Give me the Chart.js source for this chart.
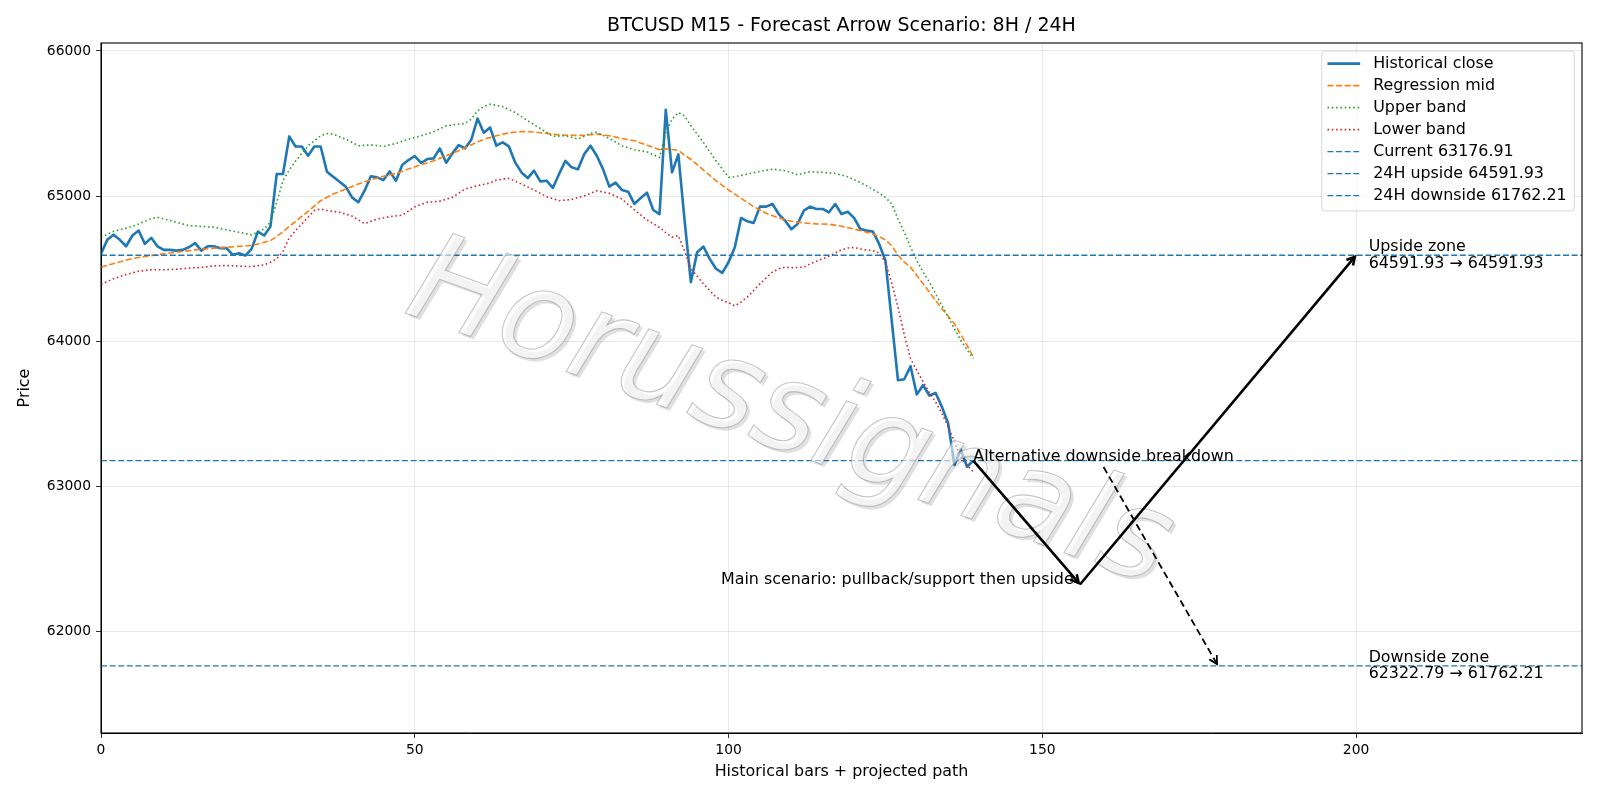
<!DOCTYPE html>
<html><head><meta charset="utf-8">
<script src="https://cdn.jsdelivr.net/npm/chart.js@4.4.1/dist/chart.umd.min.js"></script>
<style>html,body{margin:0;padding:0;background:#fff;}#wrap{width:1600px;height:800px;}</style>
</head><body><div id="wrap"><canvas id="c" width="1600" height="800"></canvas></div>
<script>
// ---------------- data ----------------
const closeValues = [64602,64698,64734,64698,64654,64728,64762,64670,64712,64654,
64629,64629,64624,64629,64647,64675,64624,64654,64654,64641,
64641,64595,64606,64590,64636,64755,64728,64790,65152,65152,
65411,65342,65342,65278,65342,65342,65168,65133,65099,65065,
64991,64957,65037,65136,65129,65110,65170,65106,65214,65248,
65276,65228,65255,65260,65328,65230,65294,65351,65328,65388,
65534,65436,65473,65347,65370,65342,65232,65163,65124,65175,
65101,65106,65056,65152,65243,65198,65184,65289,65347,65278,
65186,65065,65092,65042,65030,64946,64987,65023,64904,64876,
65594,65163,65287,64830,64407,64613,64652,64567,64499,64471,
64544,64647,64849,64826,64815,64927,64927,64945,64876,64831,
64772,64808,64899,64927,64911,64911,64888,64945,64876,64892,
64850,64773,64762,64755,64670,64556,64143,63730,63737,63827,
63632,63696,63625,63643,63547,63432,63146,63254,63134,63176.91];

const midBars = [0,5,10,15,20,24,26,27,28,29,30,31,33,35,37,39,41,43,45,47,49,51,53,55,57,59,61,63,65,67,69,71,73,75,77,79,81,83,85,87,89,90,92,93,94,96,98,100,102,104,106,108,110,112,114,116,118,120,122,123,124,125,126,127,128,129,130,132,134,136,138,139];
const midValues = [64510,64570,64602,64629,64647,64659,64682,64693,64721,64755,64790,64825,64895,64968,65014,65048,65083,65112,65136,65156,65186,65216,65243,65278,65312,65353,65391,65416,65436,65445,65441,65432,65422,65418,65418,65427,65416,65397,65381,65351,65320,65326,65315,65282,65254,65179,65106,65042,64984,64927,64881,64849,64826,64815,64808,64806,64792,64773,64750,64739,64721,64698,64659,64594,64544,64510,64453,64338,64223,64120,63971,63891];

const upperBars = [0,2,5,8,9,12,14,18,22,24,26,27,28,29,30,31,33,35,36,37,39,41,43,45,47,49,51,53,55,57,58,59,60,61,62,64,66,68,70,72,74,76,78,79,81,83,85,87,89,90,91,92,93,94,96,98,100,101,103,105,107,109,111,113,115,117,119,121,122,124,125,126,127,128,129,130,131,132,133,134,135,136,137,138,139];
const upperValues = [64716,64757,64790,64843,64854,64820,64796,64785,64750,64732,64774,64820,64957,65106,65180,65240,65347,65415,65431,65427,65392,65347,65353,65342,65363,65392,65415,65443,65484,65496,65500,65530,65587,65618,65633,65617,65576,65519,65466,65411,65416,65393,65432,65439,65397,65347,65319,65305,65266,65440,65530,65576,65553,65484,65370,65243,65129,65133,65152,65170,65186,65175,65147,65168,65163,65156,65133,65094,65070,65021,64991,64946,64843,64751,64648,64556,64476,64407,64327,64246,64166,64086,64006,63942,63880];

const lowerBars = [0,2,4,6,8,10,12,14,16,18,20,22,24,26,27,28,29,30,31,32,33,34,35,36,38,40,42,44,46,48,50,52,54,56,58,60,62,63,65,67,69,71,73,75,77,79,81,83,85,87,89,90,91,92,93,94,95,96,97,98,99,100,101,102,103,104,105,106,107,108,109,110,112,113,114,115,116,117,118,119,120,121,122,123,124,125,126,127,128,129,130,131,132,133,134,135,136,137,138,139];
const lowerValues = [64391,64430,64459,64482,64492,64492,64496,64503,64508,64519,64521,64517,64514,64526,64544,64567,64620,64712,64762,64808,64854,64900,64911,64900,64888,64862,64810,64842,64858,64868,64926,64957,64965,64991,65048,65071,65090,65110,65122,65083,65042,64996,64968,64977,65001,65037,65019,64980,64904,64836,64783,64748,64717,64728,64620,64499,64448,64395,64349,64304,64281,64265,64242,64270,64304,64349,64395,64436,64476,64499,64510,64506,64510,64533,64551,64567,64586,64607,64630,64642,64646,64635,64628,64625,64607,64544,64400,64235,64045,63880,63799,63719,63646,63581,63501,63409,63306,63203,63146,63100];

const currentPrice = 63176.91;
const upsideTarget = 64591.93;
const downsideTarget = 61762.21;
const supportLevel = 62322.79;

// projected paths (bar index, price)
const mainPathBars = [139, 156, 200];
const mainPathPrices = [currentPrice, supportLevel, upsideTarget];
const altPathBars = [139, 178];
const altPathPrices = [currentPrice, downsideTarget];
const zoneLabelBar = 202;
const mainLabelBar = 155;

const xTicks = [0, 50, 100, 150, 200];
const yTicks = [62000, 63000, 64000, 65000, 66000];
const xRange = [0, 236];
const yRange = [61299, 66055];

const titleText = 'BTCUSD M15 - Forecast Arrow Scenario: 8H / 24H';
const xTitle = 'Historical bars + projected path';
const yTitle = 'Price';
const watermarkText = 'Horussignals';

// ---------------- chart ----------------
const FONT = "'DejaVu Sans', 'Liberation Sans', sans-serif";
Chart.defaults.font.family = FONT;
Chart.defaults.color = '#000';

const BLUE = '#1f77b4', ORANGE = '#ff7f0e', GREEN = '#2ca02c', RED = '#d62728';
const pts = (xs, ys) => xs.map((x, i) => ({x: x, y: ys[i]}));
const hline = v => [{x: xRange[0], y: v}, {x: xRange[1], y: v}];

const datasets = [
  {label: 'Historical close', data: closeValues.map((v, i) => ({x: i, y: v})), borderColor: BLUE, borderWidth: 2.6, order: 7},
  {label: 'Regression mid', data: pts(midBars, midValues), borderColor: ORANGE, borderWidth: 1.6, borderDash: [6, 2.6], order: 6},
  {label: 'Upper band', data: pts(upperBars, upperValues), borderColor: GREEN, borderWidth: 1.6, borderDash: [1.6, 2.7], order: 5},
  {label: 'Lower band', data: pts(lowerBars, lowerValues), borderColor: RED, borderWidth: 1.6, borderDash: [1.6, 2.7], order: 4},
  {label: 'Current ' + currentPrice.toFixed(2), data: hline(currentPrice), borderColor: BLUE, borderWidth: 1.3, borderDash: [6, 2.6], order: 3},
  {label: '24H upside ' + upsideTarget.toFixed(2), data: hline(upsideTarget), borderColor: BLUE, borderWidth: 1.3, borderDash: [6, 2.6], order: 2},
  {label: '24H downside ' + downsideTarget.toFixed(2), data: hline(downsideTarget), borderColor: BLUE, borderWidth: 1.3, borderDash: [6, 2.6], order: 1}
];
datasets.forEach(d => { d.fill = false; d.pointRadius = 0; d.tension = 0; d.borderCapStyle = 'butt'; d.borderJoinStyle = 'round'; });

const FS_TICK = 13.89;
const FS = 15.9;
const FS_TITLE = 19;

function drawArrow(ctx, x0, y0, x1, y1, lw, dash, headLen) {
  const ang = Math.atan2(y1 - y0, x1 - x0);
  const shrink = 2;
  x1 -= shrink * Math.cos(ang); y1 -= shrink * Math.sin(ang);
  ctx.save();
  ctx.strokeStyle = '#000'; ctx.lineWidth = lw; ctx.lineCap = 'butt';
  ctx.setLineDash(dash);
  ctx.beginPath(); ctx.moveTo(x0, y0); ctx.lineTo(x1, y1); ctx.stroke();
  ctx.setLineDash([]);
  const a = 0.5;
  ctx.beginPath();
  ctx.moveTo(x1 - headLen * Math.cos(ang - a), y1 - headLen * Math.sin(ang - a));
  ctx.lineTo(x1, y1);
  ctx.lineTo(x1 - headLen * Math.cos(ang + a), y1 - headLen * Math.sin(ang + a));
  ctx.stroke();
  ctx.restore();
}

const decor = {
  id: 'decor',
  afterDatasetsDraw(chart) {
    const ctx = chart.ctx, ca = chart.chartArea;
    // watermark
    ctx.save();
    ctx.beginPath(); ctx.rect(ca.left, ca.top, ca.right - ca.left, ca.bottom - ca.top); ctx.clip();
    let size = 120;
    ctx.font = 'italic ' + size + "px 'DejaVu Sans'";
    const w = ctx.measureText(watermarkText).width;
    size = size * 800 / w;
    ctx.font = 'italic ' + size.toFixed(1) + "px 'DejaVu Sans'";
    ctx.translate(789, 418);
    ctx.rotate(20 * Math.PI / 180);
    ctx.textAlign = 'center'; ctx.textBaseline = 'middle';
    ctx.shadowColor = 'rgba(0,0,0,0.2)'; ctx.shadowOffsetX = 3; ctx.shadowOffsetY = 3; ctx.shadowBlur = 0.5;
    ctx.fillStyle = 'rgba(255,255,255,0.6)';
    ctx.fillText(watermarkText, 0, 0);
    ctx.shadowColor = 'transparent';
    ctx.strokeStyle = 'rgba(150,150,150,0.55)'; ctx.lineWidth = 1.1;
    ctx.strokeText(watermarkText, 0, 0);
    ctx.restore();
  },
  afterDraw(chart) {
    const ctx = chart.ctx, ca = chart.chartArea, sx = chart.scales.x, sy = chart.scales.y;
    const P = (x, y) => [sx.getPixelForValue(x), sy.getPixelForValue(y)];
    ctx.save();
    // title
    ctx.font = FS_TITLE + "px " + FONT;
    ctx.fillStyle = '#000'; ctx.textAlign = 'center'; ctx.textBaseline = 'middle';
    ctx.fillText(titleText, (ca.left + ca.right) / 2, 26.5);

    ctx.font = FS + "px " + FONT;
    // main scenario arrows
    for (let i = 0; i < mainPathBars.length - 1; i++) {
      const a = P(mainPathBars[i], mainPathPrices[i]);
      const b = P(mainPathBars[i + 1], mainPathPrices[i + 1]);
      drawArrow(ctx, a[0], a[1], b[0], b[1], 2.6, [], 9);
    }
    // alternative text + dashed arrow
    const altText = 'Alternative downside breakdown';
    const t0 = P(altPathBars[0], altPathPrices[0]);
    ctx.textAlign = 'left'; ctx.textBaseline = 'alphabetic';
    ctx.fillText(altText, t0[0], t0[1]);
    const tw = ctx.measureText(altText).width;
    const e = P(altPathBars[1], altPathPrices[1]);
    drawArrow(ctx, t0[0] + tw / 2, t0[1] + 6.5, e[0], e[1], 1.8, [7, 4], 9);
    // main label
    const m = P(mainLabelBar, supportLevel);
    ctx.textAlign = 'right';
    ctx.fillText('Main scenario: pullback/support then upside', m[0], m[1]);
    // zone labels
    ctx.textAlign = 'left'; ctx.textBaseline = 'middle';
    const u = P(zoneLabelBar, upsideTarget);
    ctx.fillText('Upside zone', u[0], u[1] - 8.3);
    ctx.fillText(upsideTarget.toFixed(2) + ' \u2192 ' + upsideTarget.toFixed(2), u[0], u[1] + 8.3);
    const d = P(zoneLabelBar, downsideTarget);
    ctx.fillText('Downside zone', d[0], d[1] - 8.3);
    ctx.fillText(supportLevel.toFixed(2) + ' \u2192 ' + downsideTarget.toFixed(2), d[0], d[1] + 8.3);
    // frame
    ctx.strokeStyle = '#000'; ctx.lineWidth = 1.1; ctx.setLineDash([]);
    ctx.strokeRect(ca.left, ca.top, ca.right - ca.left, ca.bottom - ca.top);
    // legend
    const items = chart.data.datasets;
    let maxW = 0;
    items.forEach(ds => { maxW = Math.max(maxW, ctx.measureText(ds.label).width); });
    const rowH = 22, padL = 5.7, sampleW = 32.7, gap = 13, padR = 7.6;
    const boxW = padL + sampleW + gap + maxW + padR;
    const boxH = 160;
    const bx = ca.right - 7.7 - boxW, by = ca.top + 8;
    ctx.beginPath();
    if (ctx.roundRect) ctx.roundRect(bx, by, boxW, boxH, 3); else ctx.rect(bx, by, boxW, boxH);
    ctx.fillStyle = 'rgba(255,255,255,0.8)'; ctx.fill();
    ctx.strokeStyle = 'rgba(204,204,204,0.8)'; ctx.lineWidth = 1; ctx.stroke();
    ctx.textAlign = 'left'; ctx.textBaseline = 'middle';
    items.forEach((ds, i) => {
      const y = by + 12.6 + i * rowH;
      ctx.save();
      ctx.strokeStyle = ds.borderColor; ctx.lineWidth = ds.borderWidth;
      ctx.setLineDash(ds.borderDash || []);
      ctx.beginPath(); ctx.moveTo(bx + padL, y); ctx.lineTo(bx + padL + sampleW, y); ctx.stroke();
      ctx.restore();
      ctx.fillStyle = '#000';
      ctx.fillText(ds.label, bx + padL + sampleW + gap, y);
    });
    ctx.restore();
  }
};

const gridColor = 'rgba(176,176,176,0.35)';
new Chart(document.getElementById('c'), {
  type: 'line',
  data: {datasets: datasets},
  plugins: [decor],
  options: {
    responsive: false, animation: false, devicePixelRatio: 1,
    layout: {padding: {top: 43, right: 18, bottom: 0, left: 0}},
    plugins: {
      legend: {display: false}, tooltip: {enabled: false}, title: {display: false}
    },
    scales: {
      x: {
        type: 'linear', min: xRange[0], max: xRange[1],
        afterBuildTicks: s => { s.ticks = xTicks.map(v => ({value: v})); },
        afterFit: s => { s.height = 67; },
        ticks: {font: {size: FS_TICK, family: FONT}, color: '#000', padding: 4, maxRotation: 0, autoSkip: false, callback: v => String(v)},
        grid: {color: gridColor, lineWidth: 0.8, tickColor: '#000', tickLength: 5, drawTicks: true},
        border: {display: true, color: '#000', width: 1},
        title: {display: true, text: xTitle, color: '#000', font: {size: FS, family: FONT}, padding: {top: 0, bottom: 18.8}}
      },
      y: {
        type: 'linear', min: yRange[0], max: yRange[1],
        afterBuildTicks: s => { s.ticks = yTicks.map(v => ({value: v})); },
        afterFit: s => { s.width = 101; },
        ticks: {font: {size: FS_TICK, family: FONT}, color: '#000', padding: 5, autoSkip: false, callback: v => String(v)},
        grid: {color: gridColor, lineWidth: 0.8, tickColor: '#000', tickLength: 5, drawTicks: true},
        border: {display: true, color: '#000', width: 1},
        title: {display: true, text: yTitle, color: '#000', font: {size: FS, family: FONT}, padding: {top: 15.5, bottom: 0}}
      }
    }
  }
});
</script></body></html>
